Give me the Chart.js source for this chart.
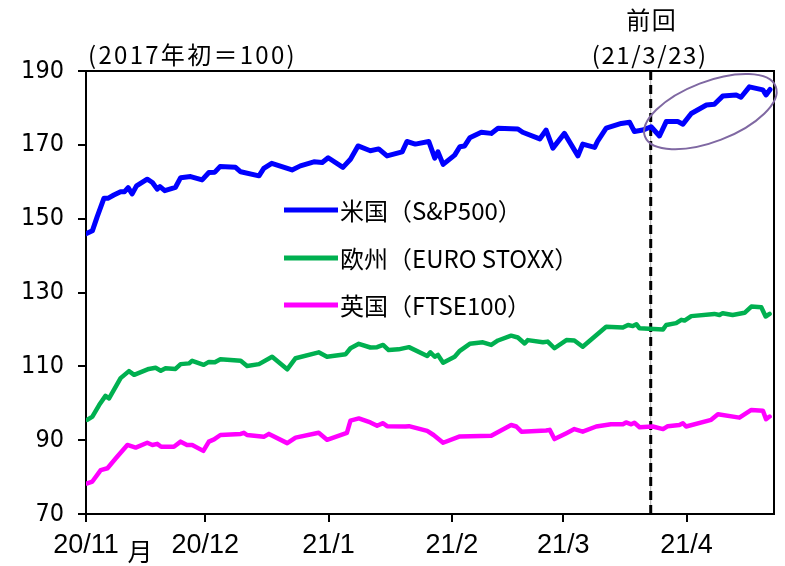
<!DOCTYPE html>
<html>
<head>
<meta charset="utf-8">
<script src="https://cdn.jsdelivr.net/npm/chart.js@4.4.1/dist/chart.umd.min.js"></script>
<style>
  html, body { margin: 0; padding: 0; background: #fff; }
  #wrap { width: 785px; height: 566px; }
</style>
</head>
<body>
<div id="wrap"><canvas id="chart"></canvas></div>
<script>
// x values are days counted from 2020/11/1
var monthTicks = [0, 30, 61, 92, 120, 151];
var monthLabels = ["20/11", "20/12", "21/1", "21/2", "21/3", "21/4"];
var yTicks = [70, 90, 110, 130, 150, 170, 190];
var prevDay = 142; // 21/3/23

var usDays = [0, 1.6, 2.8, 4.5, 5.5, 7, 8.7, 9.7, 10.6, 11.6, 12.7, 15.4, 16.7, 17.9, 18.6, 19.8, 22.5, 23.8, 26.3, 29.2,
  30.9, 32.4, 33.7, 37.6, 38.9, 43.5, 44.7, 46.7, 51.8, 53.9, 57.3, 59.4, 60.9, 64.6, 66.5, 68.4, 71.5, 73.6, 75.7, 79.5,
  80.7, 82.8, 86.2, 87.7, 88.5, 89.8, 92.7, 94, 95.2, 96.5, 99.4, 101.9, 103.6, 108.6, 109.8, 114.1, 115.7, 117.4, 120.3, 123.7,
  124.9, 127.9, 128.7, 130.8, 134.6, 136.7, 137.9, 140, 142.1, 144.2, 145.9, 148.8, 150.1, 152.2, 156, 158, 160.1, 163.5, 164.7, 166.8,
  170.2, 171, 172];
var usVals = [145.9, 146.7, 150.5, 155.5, 155.5, 156.4, 157.3, 157.3, 158.4, 156.7, 158.9, 160.7, 159.8, 158.0, 158.7, 157.6, 158.5, 161.1, 161.4, 160.5,
  162.5, 162.6, 164.1, 163.9, 162.7, 161.6, 163.6, 165.0, 163.2, 164.3, 165.4, 165.2, 166.5, 163.9, 166.1, 169.7, 168.4, 168.9, 167.0, 168.1,
  170.9, 170.2, 170.9, 166.4, 168.1, 164.7, 167.2, 169.5, 169.7, 171.9, 173.4, 173.1, 174.5, 174.3, 173.4, 171.6, 174.0, 169.1, 173.1, 167.0,
  170.2, 169.3, 171.1, 174.5, 175.8, 176.1, 173.6, 174.0, 174.9, 172.4, 176.3, 176.3, 175.6, 178.5, 180.8, 181.0, 183.2, 183.5, 182.9, 185.7,
  184.9, 183.5, 185.0];

var euDays = [0.3, 1.6, 3.3, 4.9, 5.8, 8.7, 10.8, 12.1, 15.8, 17.5, 18.8, 20, 22.5, 23.8, 25.9, 26.7, 29.6, 30.9, 32.4, 33.8,
  38.9, 40.5, 43.5, 46.8, 50.6, 52.7, 58.5, 60.6, 65.3, 66.5, 68.6, 71.5, 73.2, 74.7, 76.1, 78.6, 81.2, 85.8, 86.6, 87.7,
  88.5, 89.8, 92.7, 94, 96.5, 99.8, 101.9, 103.6, 106.9, 108.6, 110.3, 111.1, 114.9, 116.1, 117.8, 120.8, 122.8, 124.9, 130.8, 135,
  136.3, 137.5, 138.4, 139.2, 145.1, 145.9, 148.4, 149.7, 150.5, 152.2, 158, 159.3, 160.1, 162.6, 165.6, 167.3, 169.8, 170.9, 171.9];
var euVals = [95.5, 96.4, 99.5, 102.0, 101.3, 106.8, 108.7, 107.7, 109.3, 109.6, 108.8, 109.5, 109.3, 110.6, 110.8, 111.5, 110.4, 111.2, 111.1, 111.9,
  111.5, 110.1, 110.6, 112.6, 109.2, 112.2, 113.8, 112.6, 113.3, 114.9, 116.1, 115.1, 115.2, 115.8, 114.4, 114.6, 115.2, 112.8, 113.8, 112.6,
  113.1, 111.0, 112.6, 114.2, 116.1, 116.5, 115.8, 117.0, 118.3, 117.8, 116.2, 117.1, 116.5, 116.7, 114.9, 117.1, 117.0, 115.3, 120.7, 120.5,
  121.2, 120.9, 121.4, 120.3, 120.0, 121.2, 121.7, 122.6, 122.4, 123.6, 124.2, 123.9, 124.4, 123.9, 124.5, 126.2, 126.0, 123.5, 124.2];

var ukDays = [0.3, 1.6, 3.7, 5.4, 7.5, 10.4, 12.5, 15.4, 16.7, 17.9, 18.9, 22.1, 23.8, 25.4, 26.7, 29.5, 30.9, 32.2, 33.8, 38.9,
  39.7, 40.5, 44.7, 46, 50.6, 52.7, 58.5, 60.6, 65.6, 66.5, 68.6, 71.5, 73.2, 74.7, 75.7, 80.3, 81.2, 85.8, 87.4, 89.8,
  94, 101.9, 106.9, 108.2, 109.5, 115.7, 116.6, 117.8, 120.8, 122.8, 124.9, 128.3, 132, 135, 135.8, 137.1, 137.9, 139.2, 142.5, 145.1,
  146.3, 149.2, 150.1, 150.9, 157.2, 158.9, 164.3, 167.3, 170.2, 171, 171.9];
var ukVals = [78.3, 78.8, 81.9, 82.4, 85.1, 88.7, 88.0, 89.3, 88.7, 89.0, 88.2, 88.2, 89.6, 88.7, 88.7, 87.1, 89.6, 90.2, 91.4, 91.7,
  92.0, 91.4, 90.9, 91.7, 89.2, 90.7, 92.0, 90.1, 92.0, 95.3, 95.9, 94.8, 93.9, 94.6, 93.8, 93.7, 93.8, 92.5, 91.4, 89.3,
  91.0, 91.2, 94.1, 93.7, 92.3, 92.6, 92.8, 90.3, 91.9, 93.0, 92.3, 93.7, 94.3, 94.3, 94.8, 94.3, 94.7, 93.5, 93.7, 93.0,
  93.8, 94.1, 94.6, 93.7, 95.5, 97.0, 96.1, 98.2, 98.0, 95.7, 96.4];

var seriesNames = ["米国（S&P500）", "欧州（EURO STOXX）", "英国（FTSE100）"];
var seriesColors = ["#0000ff", "#00b050", "#ff00ff"];

function toPoints(days, vals) {
  return days.map(function (d, i) { return { x: d, y: vals[i] }; });
}

var cjk = "'Noto Sans CJK JP', sans-serif";

// draw text stretched with letter spacing so it spans about `w` pixels
function fitText(c, txt, x, y, w, align) {
  c.letterSpacing = "0px";
  var m = c.measureText(txt).width;
  var sp = Math.max(0, (w - m) / txt.length);
  c.letterSpacing = sp + "px";
  var left = align === "center" ? x - w / 2 : x;
  c.textAlign = "left";
  c.fillText(txt, left, y);
  c.letterSpacing = "0px";
}

var extras = {
  id: "extras",
  beforeDatasetsDraw: function (chart) {
    var c = chart.ctx, a = chart.chartArea;
    var x = chart.scales.x.getPixelForValue(prevDay);
    c.save();
    c.strokeStyle = "#aaaaaa";
    c.lineWidth = 1;
    c.beginPath(); c.moveTo(x, a.top); c.lineTo(x, a.bottom); c.stroke();
    c.strokeStyle = "#000";
    c.lineWidth = 3;
    c.setLineDash([9, 5]);
    c.beginPath(); c.moveTo(x, a.top); c.lineTo(x, a.bottom); c.stroke();
    c.restore();
  },
  afterDraw: function (chart) {
    var c = chart.ctx, a = chart.chartArea;
    var xs = chart.scales.x, ys = chart.scales.y;
    c.save();
    // frame top and right
    c.strokeStyle = "#000";
    c.lineWidth = 2;
    c.beginPath();
    c.moveTo(a.left, a.top); c.lineTo(a.right, a.top); c.lineTo(a.right, a.bottom);
    c.stroke();

    // ellipse around the latest period
    c.strokeStyle = "#7f68a2";
    c.lineWidth = 2;
    c.beginPath();
    c.ellipse(xs.getPixelForValue(157), ys.getPixelForValue(179), 70, 30, -21 * Math.PI / 180, 0, Math.PI * 2);
    c.stroke();

    // legend
    c.font = "24px " + cjk;
    c.textBaseline = "middle";
    c.textAlign = "left";
    var ly = [210, 258, 305];
    chart.data.datasets.forEach(function (ds, i) {
      c.strokeStyle = ds.borderColor;
      c.lineWidth = 5;
      c.beginPath(); c.moveTo(284, ly[i]); c.lineTo(338, ly[i]); c.stroke();
      c.fillStyle = "#000";
      c.fillText(ds.label, 340, ly[i] + 1);
    });

    // texts
    c.fillStyle = "#000";
    c.font = "24px " + cjk;
    fitText(c, "(2017年初＝100)", 88, 55, 209, "left");
    var px = xs.getPixelForValue(prevDay);
    fitText(c, "前回", px + 1, 20, 51, "center");
    fitText(c, "(21/3/23)", px - 1, 55, 116, "center");
    c.textAlign = "center";
    c.font = "25px " + cjk;
    c.fillText("月", xs.getPixelForValue(0) + 54, 551);
    c.restore();
  }
};

new Chart(document.getElementById("chart"), {
  type: "line",
  data: {
    datasets: [
      { label: seriesNames[0], data: toPoints(usDays, usVals), borderColor: seriesColors[0], borderWidth: 5 },
      { label: seriesNames[1], data: toPoints(euDays, euVals), borderColor: seriesColors[1] },
      { label: seriesNames[2], data: toPoints(ukDays, ukVals), borderColor: seriesColors[2] }
    ]
  },
  options: {
    responsive: true,
    maintainAspectRatio: false,
    animation: false,
    layout: { padding: { top: 71, right: 11, bottom: 0, left: 0 } },
    elements: {
      line: { borderWidth: 4.5, tension: 0, borderJoinStyle: "round", borderCapStyle: "round" },
      point: { radius: 0 }
    },
    plugins: { legend: { display: false }, tooltip: { enabled: false } },
    scales: {
      x: {
        type: "linear",
        min: 0,
        max: 173,
        afterBuildTicks: function (s) { s.ticks = monthTicks.map(function (v) { return { value: v }; }); },
        afterFit: function (s) { s.height = 52; },
        ticks: {
          autoSkip: false,
          maxRotation: 0,
          color: "#000",
          padding: 7,
          font: { family: "'Liberation Sans', Arial, sans-serif", size: 27 },
          callback: function (v) { return monthLabels[monthTicks.indexOf(v)]; }
        },
        grid: { drawOnChartArea: false, color: "#000", lineWidth: 2, tickLength: 8 },
        border: { color: "#000", width: 2 }
      },
      y: {
        min: 70,
        max: 190,
        afterBuildTicks: function (s) { s.ticks = yTicks.map(function (v) { return { value: v }; }); },
        afterFit: function (s) { s.width = 86; },
        ticks: {
          color: "#000",
          padding: 14,
          font: { family: "'Liberation Sans Narrow', 'DejaVu Sans Condensed', sans-serif", size: 25 }
        },
        grid: { drawOnChartArea: false, color: "#000", lineWidth: 2, tickLength: 8 },
        border: { color: "#000", width: 2 }
      }
    }
  },
  plugins: [extras]
});
</script>
</body>
</html>
